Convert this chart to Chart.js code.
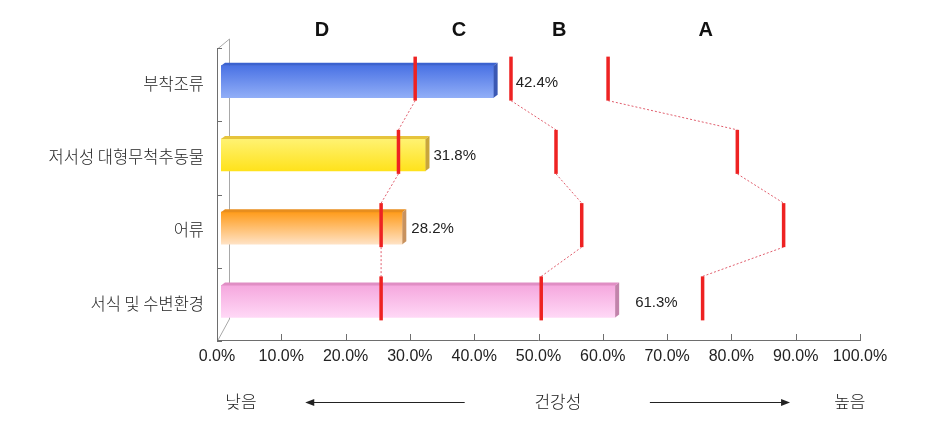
<!DOCTYPE html>
<html>
<head>
<meta charset="utf-8">
<script src="https://cdn.jsdelivr.net/npm/chart.js@4"></script>
<style>
body{margin:0;background:#fff;}
#wrap{width:933px;height:445px;position:relative;}
</style>
</head>
<body>
<div id="wrap"><canvas id="healthChart"></canvas></div>
<script>
// data
var categories = ['부착조류', '저서성 대형무척추동물', '어류', '서식 및 수변환경'];
var scores = [42.4, 31.8, 28.2, 61.3];
// grade boundaries for each category (D|C, C|B, B|A)
var limitDC = [30.2, 27.6, 24.9, 24.9];
var limitCB = [45.1, 52.1, 56.1, 49.8];
var limitBA = [60.2, 80.3, 87.5, 74.9];
var grades = ['D', 'C', 'B', 'A'];
var gradePos = [15.7, 37.0, 52.6, 75.4];

// looks
var barFaces = [
  {top: '#4a72e4', bottom: '#91aef7', lid: '#3b62d0', side: '#3a58b4'},
  {top: '#fff272', bottom: '#ffe21c', lid: '#e6c43c', side: '#c9a63a'},
  {top: '#ff9c1c', bottom: '#ffe2c4', lid: '#e88e1e', side: '#c8925e'},
  {top: '#f5a8de', bottom: '#ffd8f6', lid: '#e08ec4', side: '#c283ab'}
];
var labelGap = [18, 4, 5, 16];
var krFont = '"Noto Sans CJK KR", sans-serif';
var numFont = '"Liberation Sans", Arial, sans-serif';

var extras = {
  id: 'extras',
  beforeDatasetsDraw: function(chart){
    var ctx = chart.ctx, a = chart.chartArea;
    var x = chart.scales.x, y = chart.scales.y;
    ctx.save();
    // back wall
    ctx.strokeStyle = '#a8a8a8';
    ctx.lineWidth = 1;
    ctx.beginPath();
    ctx.moveTo(229.5, 39); ctx.lineTo(229.5, 319);
    ctx.moveTo(217.5, 49); ctx.lineTo(229.5, 39);
    ctx.moveTo(217.5, 341); ctx.lineTo(229.5, 319);
    ctx.stroke();
    // front axes
    ctx.strokeStyle = '#6e6e6e';
    ctx.beginPath();
    ctx.moveTo(217.5, 49); ctx.lineTo(217.5, 341);
    ctx.moveTo(217, 340.5); ctx.lineTo(x.getPixelForValue(100) - 4, 340.5);
    for (var i = 0; i <= categories.length; i++) {
      var yy = Math.round(y.getPixelForValue(i - 0.5) + 3) + 0.5;
      ctx.moveTo(217, yy); ctx.lineTo(222, yy);
    }
    for (var v = 10; v <= 100; v += 10) {
      var xx = Math.round(x.getPixelForValue(v) - 4) + 0.5;
      ctx.moveTo(xx, 341); ctx.lineTo(xx, 334);
    }
    ctx.stroke();
    ctx.restore();
  },
  afterDatasetsDraw: function(chart){
    var ctx = chart.ctx;
    var x = chart.scales.x, y = chart.scales.y;
    var meta = chart.getDatasetMeta(0);
    ctx.save();
    // 3d lid and side of the bars
    meta.data.forEach(function(bar, i){
      var p = bar.getProps(['x', 'y', 'base', 'height'], true);
      var t = p.y - p.height / 2, b = p.y + p.height / 2;
      ctx.fillStyle = barFaces[i].lid;
      ctx.beginPath();
      ctx.moveTo(p.base, t); ctx.lineTo(p.base + 4, t - 3);
      ctx.lineTo(p.x + 4, t - 3); ctx.lineTo(p.x, t);
      ctx.closePath(); ctx.fill();
      ctx.fillStyle = barFaces[i].side;
      ctx.beginPath();
      ctx.moveTo(p.x, t); ctx.lineTo(p.x + 4, t - 3);
      ctx.lineTo(p.x + 4, b - 3); ctx.lineTo(p.x, b);
      ctx.closePath(); ctx.fill();
      // value label
      ctx.fillStyle = '#222';
      ctx.font = '15px ' + numFont;
      ctx.textAlign = 'left';
      ctx.textBaseline = 'middle';
      ctx.fillText(scores[i].toFixed(1) + '%', p.x + 4 + labelGap[i], p.y + 1);
    });
    // grade boundary markers and their dotted links
    [limitDC, limitCB, limitBA].forEach(function(lim){
      var pts = lim.map(function(v, i){
        var c = y.getPixelForValue(i) - 3;
        return {x: x.getPixelForValue(v), t: c - 22, b: c + 22};
      });
      ctx.strokeStyle = 'rgba(214,40,60,0.75)';
      ctx.lineWidth = 1;
      ctx.setLineDash([2, 2]);
      ctx.beginPath();
      for (var i = 0; i < pts.length - 1; i++) {
        ctx.moveTo(pts[i].x, pts[i].b);
        ctx.lineTo(pts[i + 1].x, pts[i + 1].t);
      }
      ctx.stroke();
      ctx.setLineDash([]);
      ctx.fillStyle = '#ee2222';
      pts.forEach(function(p){
        ctx.fillRect(p.x - 1.75, p.t, 3.5, p.b - p.t);
      });
    });
    // grade letters
    ctx.fillStyle = '#111';
    ctx.font = 'bold 20px ' + numFont;
    ctx.textAlign = 'center';
    ctx.textBaseline = 'middle';
    grades.forEach(function(g, i){
      ctx.fillText(g, x.getPixelForValue(gradePos[i]), 30);
    });
    // health direction row
    var rowY = 402;
    ctx.font = '300 17px ' + krFont;
    ctx.fillStyle = '#222';
    ctx.fillText('낮음', x.getPixelForValue(3.1), rowY);
    ctx.fillText('건강성', x.getPixelForValue(52.4), rowY);
    ctx.fillText('높음', x.getPixelForValue(97.8), rowY);
    ctx.strokeStyle = '#222';
    ctx.lineWidth = 1;
    var l1 = x.getPixelForValue(37.9), l2 = x.getPixelForValue(13.1);
    var r1 = x.getPixelForValue(66.7), r2 = x.getPixelForValue(88.5);
    ctx.beginPath();
    ctx.moveTo(l1, rowY + 0.5); ctx.lineTo(l2 + 6, rowY + 0.5);
    ctx.moveTo(r1, rowY + 0.5); ctx.lineTo(r2 - 6, rowY + 0.5);
    ctx.stroke();
    ctx.fillStyle = '#222';
    ctx.beginPath();
    ctx.moveTo(l2, rowY + 0.5); ctx.lineTo(l2 + 9, rowY - 3); ctx.lineTo(l2 + 9, rowY + 4);
    ctx.closePath(); ctx.fill();
    ctx.beginPath();
    ctx.moveTo(r2, rowY + 0.5); ctx.lineTo(r2 - 9, rowY - 3); ctx.lineTo(r2 - 9, rowY + 4);
    ctx.closePath(); ctx.fill();
    ctx.restore();
  }
};

var ctx = document.getElementById('healthChart');
var healthChart = new Chart(ctx, {
  type: 'bar',
  data: {
    labels: categories,
    datasets: [{
      data: scores,
      barThickness: 32,
      borderWidth: 0,
      backgroundColor: function(c){
        var ch = c.chart;
        if (!ch.chartArea || !ch.scales.y) return barFaces[c.dataIndex].bottom;
        var yc = ch.scales.y.getPixelForValue(c.dataIndex);
        var g = ch.ctx.createLinearGradient(0, yc - 16, 0, yc + 16);
        g.addColorStop(0, barFaces[c.dataIndex].top);
        g.addColorStop(1, barFaces[c.dataIndex].bottom);
        return g;
      }
    }]
  },
  options: {
    indexAxis: 'y',
    responsive: true,
    maintainAspectRatio: false,
    animation: false,
    layout: {padding: {left: 0, right: 69, top: 45, bottom: 77}},
    plugins: {legend: {display: false}, tooltip: {enabled: false}},
    scales: {
      x: {
        min: 0, max: 100,
        grid: {display: false, drawTicks: false},
        border: {display: false},
        afterFit: function(s){ s.height = 30; },
        ticks: {
          stepSize: 10,
          padding: 9,
          labelOffset: -4,
          color: '#222',
          font: {family: numFont, size: 16},
          callback: function(v){ return v.toFixed(1) + '%'; }
        }
      },
      y: {
        grid: {display: false, drawTicks: false},
        border: {display: false},
        afterFit: function(s){ s.width = 221; },
        ticks: {
          padding: 17,
          labelOffset: 2,
          color: '#222',
          font: {family: krFont, size: 16.5, weight: '300'}
        }
      }
    }
  },
  plugins: [extras]
});
</script>
</body>
</html>
